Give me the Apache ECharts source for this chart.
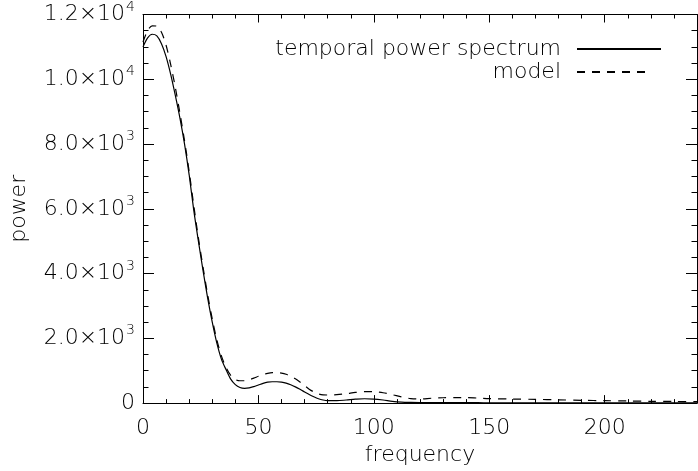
<!DOCTYPE html>
<html><head><meta charset="utf-8">
<script src="https://cdn.jsdelivr.net/npm/echarts@6/dist/echarts.min.js"></script>
<style>html,body{margin:0;padding:0;background:#fff}#c{width:698px;height:471px}</style>
</head><body><div id="c"></div>
<script>
const frequency = [0,2,4,6,8,10,12,14,16,18,20,22,24,26,28,30,32,34,36,38,40,42,44,46,48,50,52,54,56,58,60,62,64,66,68,70,72,74,76,78,80,84,88,92,96,100,104,108,112,116,120,125,130,135,140,145,150,160,170,180,190,200,210,220,230,240];
const spectrum = [11000,11280,11390,11340,11100,10700,10150,9500,8800,8000,7050,5950,5000,4100,3250,2500,1850,1350,1030,740,570,480,455,470,510,560,610,645,660,660,645,615,565,500,425,345,265,195,135,95,75,75,95,120,135,125,95,55,30,20,15,15,15,14,12,12,10,10,9,9,8,8,8,8,8,8];
const model = [11150,11500,11650,11640,11450,11050,10450,9750,8950,8100,7150,6100,5100,4200,3350,2600,1950,1450,1100,860,730,690,690,720,770,830,880,920,940,940,925,890,830,750,650,540,430,345,285,255,250,260,290,330,355,350,320,260,190,140,125,150,165,170,170,155,140,125,115,100,85,75,65,55,50,45];
const seriesNames = ['temporal power spectrum', 'model'];
const xTicks = {min: 0, max: 240, interval: 50};
const yTicks = {min: 0, max: 12000, interval: 2000};

const FONT = 'DejaVu Sans';
const FS = 22;
const chart = echarts.init(document.getElementById('c'), null, {renderer: 'canvas'});
function yLabel(v) {
  if (v === 0) return '0';
  const e = Math.floor(Math.log10(v) + 1e-9);
  const m = (v / Math.pow(10, e)).toFixed(1);
  return '{m|' + m + '×10}{e|' + e + '}';
}
const txt = {fontFamily: FONT, fontWeight: 200, color: '#000'};
const axisLine = {show: true, onZero: false, lineStyle: {color: '#000', width: 1}};
const xTick = {show: true, inside: true, length: 8, lineStyle: {color: '#000'}};
const xMinor = {show: true, splitNumber: 5, length: 4, lineStyle: {color: '#000'}};
const yTick = {show: true, inside: true, length: 11, lineStyle: {color: '#000'}};
const yMinor = {show: true, splitNumber: 4, length: 5.5, lineStyle: {color: '#000'}};
const legendCommon = {orient: 'vertical', align: 'right', itemHeight: 14,
  itemStyle: {opacity: 0}, textStyle: Object.assign({fontSize: FS, padding: [0, 11, 0, 0]}, txt)};
chart.setOption({
  animation: false,
  backgroundColor: '#fff',
  grid: {left: 141, right: 1, top: 10, bottom: 65},
  legend: [
    Object.assign({data: [seriesNames[0]], right: 31, top: 33, itemWidth: 84}, legendCommon),
    Object.assign({data: [seriesNames[1]], right: 40, top: 56, itemWidth: 75}, legendCommon)
  ],
  xAxis: [
    {type: 'value', min: xTicks.min, max: xTicks.max, interval: xTicks.interval, position: 'bottom',
     name: 'frequency', nameLocation: 'middle', nameGap: 38, nameTextStyle: Object.assign({fontSize: FS}, txt),
     axisLine: axisLine, axisTick: xTick, minorTick: xMinor,
     axisLabel: Object.assign({fontSize: FS, margin: 14, showMaxLabel: false}, txt),
     splitLine: {show: false}},
    {type: 'value', min: xTicks.min, max: xTicks.max, interval: xTicks.interval, position: 'top',
     axisLine: axisLine, axisTick: xTick, minorTick: xMinor,
     axisLabel: {show: false}, splitLine: {show: false}}
  ],
  yAxis: [
    {type: 'value', min: yTicks.min, max: yTicks.max, interval: yTicks.interval, position: 'left',
     name: 'power', nameLocation: 'middle', nameGap: 113, nameTextStyle: Object.assign({fontSize: FS}, txt),
     axisLine: axisLine, axisTick: yTick, minorTick: yMinor,
     axisLabel: Object.assign({margin: 8, formatter: yLabel, rich: {
       m: Object.assign({fontSize: FS}, txt),
       e: Object.assign({fontSize: 14, padding: [0, 0, 15, 1]}, txt)
     }, fontSize: FS}, txt),
     splitLine: {show: false}},
    {type: 'value', min: yTicks.min, max: yTicks.max, interval: yTicks.interval, position: 'right',
     axisLine: axisLine, axisTick: yTick, minorTick: yMinor,
     axisLabel: {show: false}, splitLine: {show: false}}
  ],
  series: [
    {name: seriesNames[0], type: 'line', data: frequency.map((f, i) => [f, spectrum[i]]), smooth: 0.3, symbol: 'none',
     lineStyle: {color: '#000', width: 1.2, type: 'solid'}, itemStyle: {color: '#000'}},
    {name: seriesNames[1], type: 'line', data: frequency.map((f, i) => [f, model[i]]), smooth: 0.3, symbol: 'none',
     lineStyle: {color: '#000', width: 1.2, type: [8, 7]}, itemStyle: {color: '#000'}}
  ]
});
</script></body></html>
